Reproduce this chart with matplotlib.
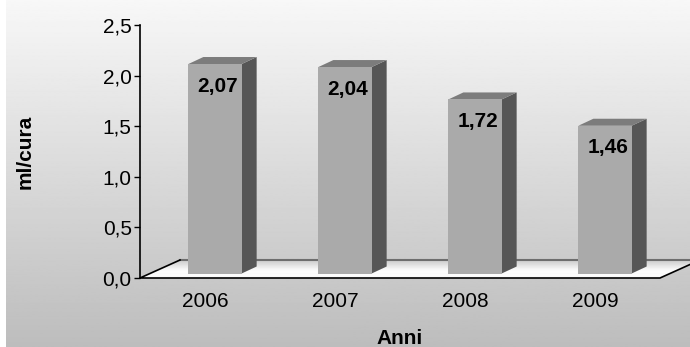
import numpy as np
import matplotlib
matplotlib.use('Agg')
import matplotlib.pyplot as plt
from matplotlib.patches import Polygon

plt.rcParams['font.family'] = ['Liberation Sans', 'DejaVu Sans']

anni = ['2006', '2007', '2008', '2009']
valori = [2.07, 2.04, 1.72, 1.46]
y_ticks = [0.0, 0.5, 1.0, 1.5, 2.0, 2.5]

W, H = 690, 347
fig = plt.figure(figsize=(W / 100, H / 100), dpi=100)
fig.patch.set_facecolor('white')

# sfondo sfumato
bg = fig.add_axes([6 / W, 0, (W - 6) / W, 1])
grad = np.linspace(0.97, 0.74, 256).reshape(-1, 1)
bg.imshow(grad, cmap='gray', vmin=0, vmax=1, aspect='auto', extent=[0, 1, 0, 1])
bg.axis('off')

# area del grafico in pixel
x0, x1, y0, y1 = 140, 660, 278, 25
ax = fig.add_axes([x0 / W, (H - y0) / H, (x1 - x0) / W, (y0 - y1) / H])
ax.set_facecolor('none')
ax.set_xlim(-0.5, 3.5)
ax.set_ylim(0, 2.5)

px_x = 4 / (x1 - x0)
px_y = 2.5 / (y0 - y1)

# pavimento: strisce dal davanti (bianco) al fondo (grigio)
dx, dy = 40 * px_x, 18 * px_y
n = 24
for k in range(n):
    t0, t1 = k / n, (k + 1) / n
    tm = (t0 + t1) / 2
    c = min(1.0, 0.80 + 0.20 * (1 - tm) / 0.55) if tm > 0.45 else 1.0
    pts = [(-0.5 + dx * t0, dy * t0), (3.5 + dx * t0, dy * t0),
           (3.5 + dx * t1, dy * t1), (-0.5 + dx * t1, dy * t1)]
    ax.add_patch(Polygon(pts, closed=True, facecolor=(c, c, c), edgecolor=(c, c, c),
                         lw=0.3, clip_on=False, zorder=1))

ax.plot([-0.5 + dx, 3.5 + dx], [dy, dy], color='#6e6e6e', lw=1.5, clip_on=False, zorder=1.2)
ax.plot([-0.5 + dx, -0.5, 3.5, 3.5 + dx], [dy, 0, 0, dy], color='black', lw=1.2,
        clip_on=False, zorder=5)

# barre 3d
fx, fy = 10 * px_x, 4.5 * px_y
sx, sy = 15 * px_x, 7 * px_y
half = 0.205
for i, v in enumerate(valori):
    left = i + fx - half
    right = i + fx + half
    base = fy
    top = fy + v
    ax.add_patch(Polygon([(right, base), (right + sx, base + sy), (right + sx, top + sy), (right, top)],
                         facecolor='#565656', edgecolor='none', zorder=3))
    ax.add_patch(Polygon([(left, top), (right, top), (right + sx, top + sy), (left + sx, top + sy)],
                         facecolor='#7c7c7c', edgecolor='none', zorder=3))
    ax.add_patch(Polygon([(left, base), (right, base), (right, top), (left, top)],
                         facecolor='#aaaaaa', edgecolor='none', zorder=3))
    ax.annotate(f'{v:.2f}'.replace('.', ','), (i + fx, top), xytext=(3, -22),
                textcoords='offset pixels', ha='center', va='center',
                fontsize=15, fontweight='bold', color='black', zorder=6)

ax.set_yticks(y_ticks)
ax.set_yticklabels([f'{t:.1f}'.replace('.', ',') for t in y_ticks], fontsize=15)
ax.set_xticks(range(len(anni)))
ax.set_xticklabels(anni, fontsize=15)
ax.tick_params(axis='y', length=4, width=1, pad=2)
ax.tick_params(axis='x', length=0, pad=10)

for s in ['top', 'right', 'bottom']:
    ax.spines[s].set_visible(False)
ax.spines['left'].set_linewidth(1.2)

fig.text(25 / W, 1 - 152 / H, 'ml/cura', rotation=90, ha='center', va='center',
         fontsize=15, fontweight='bold')
fig.text(400 / W, 1 - 338 / H, 'Anni', ha='center', va='center',
         fontsize=15, fontweight='bold')

fig.savefig('out.png', dpi=100)
